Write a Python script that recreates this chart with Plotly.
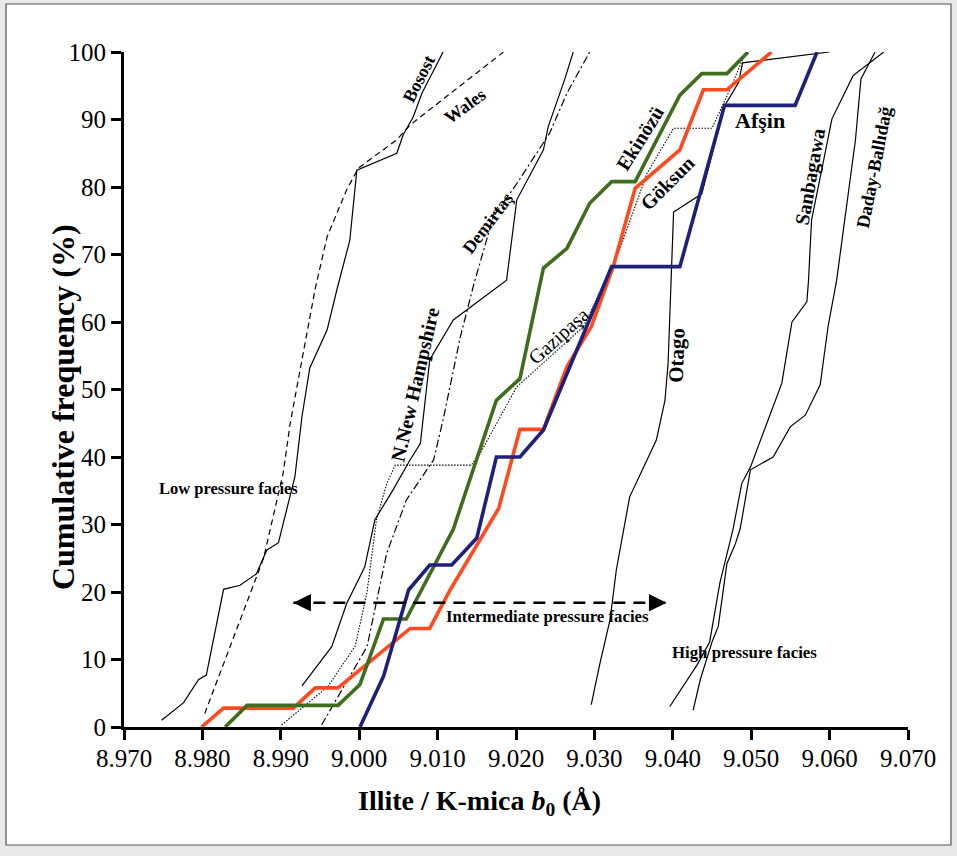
import plotly.graph_objects as go

# ---------------- data ----------------
bosost_x = [8.9748, 8.9776, 8.9795, 8.9805, 8.9827, 8.9848, 8.9869, 8.9882, 8.9897, 8.9918, 8.9927, 8.9937, 8.9959, 8.9972, 8.9988, 8.9997, 9.0048, 9.0056, 9.0069, 9.0080, 9.0107]
bosost_y = [1.0, 3.6, 7.0, 7.7, 20.4, 21.0, 22.7, 26.2, 27.3, 37.1, 46.0, 53.2, 58.8, 65.0, 72.1, 82.5, 85.0, 87.7, 90.4, 93.9, 100.0]

wales_x = [8.9803, 8.9827, 8.9878, 8.9903, 8.9912, 8.9927, 8.9944, 8.9959, 8.9984, 8.9999, 9.0048, 9.0065, 9.0184]
wales_y = [2.0, 9.4, 25.0, 37.6, 45.0, 54.4, 65.0, 72.6, 79.6, 82.8, 87.0, 89.2, 100.0]

nnh_x = [8.9927, 8.9965, 8.9984, 9.0007, 9.0020, 9.0043, 9.0065, 9.0078, 9.0090, 9.0120, 9.0188, 9.0201, 9.0235, 9.0241, 9.0262, 9.0273]
nnh_y = [6.1, 11.9, 18.3, 23.7, 30.7, 35.1, 39.6, 42.0, 54.4, 60.3, 66.2, 78.1, 85.5, 88.9, 95.9, 100.0]

demirtas_x = [8.9952, 8.9980, 9.0010, 9.0035, 9.0060, 9.0095, 9.0107, 9.0129, 9.0146, 9.0171, 9.0201, 9.0243, 9.0265, 9.0294]
demirtas_y = [0.3, 6.0, 11.9, 25.7, 33.6, 39.6, 45.5, 57.8, 65.5, 75.6, 80.5, 88.0, 93.9, 100.0]

gazipasa_x = [8.9901, 8.9960, 8.9995, 9.0010, 9.0022, 9.0035, 9.0046, 9.0143, 9.0154, 9.0201, 9.0286, 9.0330, 9.0367, 9.0401, 9.0450, 9.0475, 9.0493]
gazipasa_y = [0.3, 6.0, 12.0, 20.0, 30.7, 36.0, 38.8, 38.8, 40.5, 50.4, 59.3, 70.0, 82.0, 88.7, 88.7, 95.0, 100.0]

otago_x = [9.0296, 9.0307, 9.0320, 9.0328, 9.0345, 9.0379, 9.0390, 9.0394, 9.0401, 9.0437, 9.0466, 9.0484, 9.0489, 9.0600]
otago_y = [3.3, 9.4, 15.9, 23.3, 34.1, 42.5, 48.4, 53.9, 76.3, 79.0, 92.0, 95.5, 98.4, 100.0]

sanbagawa_x = [9.0396, 9.0431, 9.0447, 9.0460, 9.0477, 9.0488, 9.0499, 9.0539, 9.0552, 9.0571, 9.0573, 9.0577, 9.0603, 9.0630, 9.0669]
sanbagawa_y = [3.0, 9.2, 12.6, 21.3, 29.4, 36.1, 38.5, 50.9, 60.0, 63.0, 66.0, 75.1, 90.1, 96.5, 100.0]

daday_x = [9.0426, 9.0435, 9.0450, 9.0458, 9.0469, 9.0480, 9.0486, 9.0499, 9.0528, 9.0550, 9.0569, 9.0588, 9.0598, 9.0609, 9.0633, 9.0640, 9.0658]
daday_y = [2.5, 7.0, 12.6, 14.9, 24.2, 27.2, 29.4, 38.1, 40.0, 44.5, 46.2, 50.7, 59.3, 66.2, 87.0, 96.0, 100.0]

goksun_x = [8.9799, 8.9827, 8.9916, 8.9944, 8.9973, 9.0065, 9.0090, 9.0116, 9.0178, 9.0205, 9.0235, 9.0265, 9.0296, 9.0324, 9.0352, 9.0409, 9.0439, 9.0469, 9.0526]
goksun_y = [0.0, 2.8, 2.8, 5.8, 5.8, 14.6, 14.6, 20.3, 32.4, 44.1, 44.1, 53.4, 59.3, 68.2, 79.8, 85.5, 94.4, 94.4, 100.0]

ekinozu_x = [8.9829, 8.9857, 8.9973, 9.0001, 9.0031, 9.0060, 9.0120, 9.0175, 9.0205, 9.0235, 9.0265, 9.0294, 9.0322, 9.0352, 9.0409, 9.0437, 9.0469, 9.0496]
ekinozu_y = [0.0, 3.2, 3.2, 6.3, 16.0, 16.0, 29.3, 48.4, 51.6, 68.0, 70.9, 77.6, 80.8, 80.8, 93.6, 96.8, 96.8, 100.0]

afsin_x = [9.0001, 9.0031, 9.0063, 9.0090, 9.0118, 9.0150, 9.0175, 9.0205, 9.0235, 9.0322, 9.0409, 9.0466, 9.0556, 9.0584]
afsin_y = [0.0, 7.5, 20.3, 24.0, 24.0, 28.0, 40.0, 40.0, 44.0, 68.2, 68.2, 92.1, 92.1, 100.0]

arrow_x = [8.9916, 9.0392]
arrow_y = [18.4, 18.4]

x_ticks = [8.970, 8.980, 8.990, 9.000, 9.010, 9.020, 9.030, 9.040, 9.050, 9.060, 9.070]
x_tick_labels = ["8.970", "8.980", "8.990", "9.000", "9.010", "9.020", "9.030", "9.040", "9.050", "9.060", "9.070"]
y_ticks = [0, 10, 20, 30, 40, 50, 60, 70, 80, 90, 100]

label_texts = ["Bosost", "Wales", "Demirtaş", "N.New Hampshire", "Gazipaşa", "Ekinözü", "Göksun",
               "Afşin", "Otago", "Sanbagawa", "Daday-Ballıdağ",
               "Low pressure facies", "Intermediate pressure facies", "High pressure facies"]
label_x = [9.0076, 9.0135, 9.0164, 9.0072, 9.0254, 9.0358, 9.0393, 9.0511, 9.0405, 9.0576, 9.0657, 8.9833, 9.0240, 9.0492]
label_y = [96.0, 92.0, 74.7, 50.7, 57.9, 87.3, 80.6, 89.9, 55.1, 81.5, 83.0, 35.3, 16.3, 11.0]

# ---------------- styling ----------------
SERIF = "Liberation Serif, Times New Roman, serif"
thin = 1.2
series = [
    (bosost_x, bosost_y, dict(color="black", width=thin)),
    (wales_x, wales_y, dict(color="black", width=thin, dash="6px,4px")),
    (nnh_x, nnh_y, dict(color="black", width=thin)),
    (demirtas_x, demirtas_y, dict(color="black", width=thin, dash="8px,3px,2px,3px")),
    (gazipasa_x, gazipasa_y, dict(color="black", width=1.1, dash="1.5px,1.5px")),
    (otago_x, otago_y, dict(color="black", width=thin)),
    (sanbagawa_x, sanbagawa_y, dict(color="black", width=thin)),
    (daday_x, daday_y, dict(color="black", width=thin)),
    (goksun_x, goksun_y, dict(color="#FF4A1F", width=3.6)),
    (ekinozu_x, ekinozu_y, dict(color="#3E6E1D", width=3.6)),
    (afsin_x, afsin_y, dict(color="#1F2079", width=3.6)),
]

fig = go.Figure()
for xs, ys, ln in series:
    fig.add_trace(go.Scatter(x=xs, y=ys, mode="lines", line=ln, hoverinfo="skip", showlegend=False))

# dashed double arrow
fig.add_trace(go.Scatter(x=arrow_x, y=arrow_y, mode="lines",
                         line=dict(color="black", width=2.4, dash="12px,8px"),
                         hoverinfo="skip", showlegend=False))

annotations = []
# arrowheads
for tip, tail in [(arrow_x[0], arrow_x[0] + 0.002), (arrow_x[1], arrow_x[1] - 0.002)]:
    annotations.append(dict(x=tip, y=arrow_y[0], ax=tail, ay=arrow_y[0], xref="x", yref="y",
                            axref="x", ayref="y", text="", showarrow=True, arrowhead=2,
                            arrowsize=1.6, arrowwidth=2.2, arrowcolor="black"))

label_style = [
    (-63, 18, True), (-36, 18, True), (-53, 18, True), (-77, 20, True), (-42, 20, False),
    (-58, 20, True), (-45, 20, True), (0, 22, True), (-88, 21, True), (-80, 20, True),
    (-79, 18.5, True), (0, 16.5, True), (0, 16.8, True), (0, 16.8, True),
]
for t, lx, ly, (ang, sz, bold) in zip(label_texts, label_x, label_y, label_style):
    annotations.append(dict(x=lx, y=ly, xref="x", yref="y", text=(f"<b>{t}</b>" if bold else t),
                            showarrow=False, textangle=ang, xanchor="center", yanchor="middle",
                            font=dict(family=SERIF, size=sz, color="black")))

# axis titles
annotations.append(dict(x=0.454, y=-0.112, xref="paper", yref="paper",
                        xanchor="center", yanchor="middle",
                        text="<b>Illite / K-mica <i>b</i><sub>0</sub> (Å)</b>", showarrow=False,
                        font=dict(family=SERIF, size=28, color="black")))
annotations.append(dict(x=-0.0778, y=0.474, xref="paper", yref="paper",
                        xanchor="center", yanchor="middle",
                        text="<b>Cumulative frequency (%)</b>", showarrow=False, textangle=-90,
                        font=dict(family=SERIF, size=32, color="black")))

# outer frame
shapes = [dict(type="rect", xref="paper", yref="paper", x0=-0.1505, x1=1.0548, y0=-0.1748, y1=1.0711,
               line=dict(color="#555555", width=1.2), fillcolor="white", layer="below")]

fig.update_layout(
    width=957, height=856,
    margin=dict(l=124, r=49, t=52, b=129),
    paper_bgcolor="#e9e9e9", plot_bgcolor="white",
    annotations=annotations, shapes=shapes,
    xaxis=dict(range=[8.970, 9.070], tickvals=x_ticks, ticktext=x_tick_labels,
               showline=True, linecolor="black", linewidth=2.8, mirror=False,
               ticks="outside", ticklen=10, tickwidth=2.5, tickcolor="black",
               showgrid=False, zeroline=False, ticklabelstandoff=-3,
               tickfont=dict(family=SERIF, size=25, color="black")),
    yaxis=dict(range=[0, 100], tickvals=y_ticks,
               showline=True, linecolor="black", linewidth=2.8, mirror=False,
               ticks="outside", ticklen=10, tickwidth=2.5, tickcolor="black",
               showgrid=False, zeroline=False,
               tickfont=dict(family=SERIF, size=25, color="black")),
)

fig.write_html("out.html")
